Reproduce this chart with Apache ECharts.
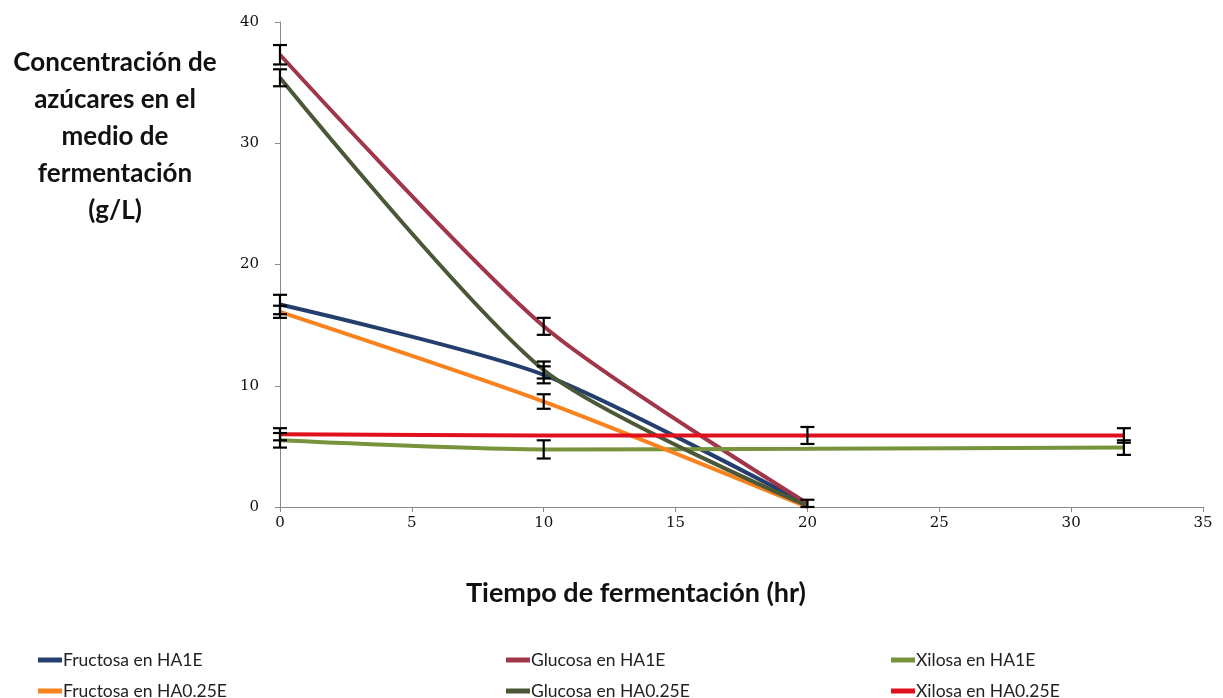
<!DOCTYPE html>
<html><head><meta charset="utf-8">
<script src="https://cdn.jsdelivr.net/npm/echarts@6/dist/echarts.min.js"></script>
<style>html,body{margin:0;padding:0;background:#fff}#c{width:1223px;height:698px}</style>
</head><body><div id="c"></div>
<script>
const times = [0, 10, 20, 32];
const seriesNames = ['Fructosa en HA1E','Glucosa en HA1E','Xilosa en HA1E','Fructosa en HA0.25E','Glucosa en HA0.25E','Xilosa en HA0.25E'];
const fructosaHA1E   = [16.7, 10.9, 0.2, null];
const glucosaHA1E    = [37.3, 14.9, 0.3, null];
const xilosaHA1E     = [5.5, 4.75, 4.8, 4.9];
const fructosaHA025E = [16.1, 8.7, 0.0, null];
const glucosaHA025E  = [35.4, 11.3, 0.1, null];
const xilosaHA025E   = [6.0, 5.9, 5.9, 5.9];
const errFructosaHA1E   = [0.8, 0.7, null, null];
const errGlucosaHA1E    = [0.8, 0.7, 0.3, null];
const errXilosaHA1E     = [0.6, 0.75, null, 0.6];
const errFructosaHA025E = [0.5, 0.6, null, null];
const errGlucosaHA025E  = [0.7, 0.7, null, null];
const errXilosaHA025E   = [0.5, null, 0.7, 0.6];
const xTicks = [0,5,10,15,20,25,30,35];
const yTicks = [0,10,20,30,40];

const values = [fructosaHA1E, glucosaHA1E, xilosaHA1E, fructosaHA025E, glucosaHA025E, xilosaHA025E];
const errors = [errFructosaHA1E, errGlucosaHA1E, errXilosaHA1E, errFructosaHA025E, errGlucosaHA025E, errXilosaHA025E];
const colors = ['#243F6E','#A0364A','#77933C','#F7821E','#4B5838','#E0101C'];

const chart = echarts.init(document.getElementById('c'));
const series = [];
values.forEach((v, i) => {
  series.push({
    name: seriesNames[i], type: 'line', smooth: 0.25, showSymbol: false,
    lineStyle: {width: 4, color: colors[i]}, itemStyle: {color: colors[i]},
    data: times.map((t, k) => v[k] == null ? null : [t, v[k]]).filter(d => d),
    z: 2
  });
});
const errData = [];
values.forEach((v, i) => times.forEach((t, k) => {
  if (v[k] != null && errors[i][k]) errData.push([t, v[k] - errors[i][k], v[k] + errors[i][k]]);
}));
series.push({
  type: 'custom', z: 5, silent: true,
  renderItem: function (params, api) {
    const x = api.value(0);
    const lo = api.coord([x, api.value(1)]);
    const hi = api.coord([x, api.value(2)]);
    const w = 7;
    const st = {stroke: '#000', lineWidth: 2.2};
    return {type: 'group', children: [
      {type: 'line', shape: {x1: lo[0], y1: lo[1], x2: hi[0], y2: hi[1]}, style: st},
      {type: 'line', shape: {x1: lo[0]-w, y1: lo[1], x2: lo[0]+w, y2: lo[1]}, style: st},
      {type: 'line', shape: {x1: hi[0]-w, y1: hi[1], x2: hi[0]+w, y2: hi[1]}, style: st}
    ]};
  },
  encode: {x: 0, y: [1, 2]},
  data: errData
});

const legendBase = {orient: 'horizontal', itemWidth: 24, itemHeight: 5, icon: 'rect',
  textStyle: {fontFamily: 'Lato', fontSize: 17.5, color: '#222', padding: [0,0,0,-4]}};
const legPos = [[33,646],[501,646],[886,646],[33,677],[501,677],[886,677]];
const legends = seriesNames.map((n, i) => Object.assign({left: legPos[i][0], top: legPos[i][1], data: [n]}, legendBase));

chart.setOption({
  animation: false,
  grid: {left: 280, right: 20, top: 22, bottom: 191, containLabel: false},
  xAxis: {type: 'value', min: 0, max: 35, interval: 5,
    axisLine: {lineStyle: {color: '#888', width: 1}},
    axisTick: {show: true, length: 5, lineStyle: {color: '#888'}},
    splitLine: {show: false},
    axisLabel: {fontFamily: 'DejaVu Serif', fontSize: 15, color: '#111', margin: 9,
      formatter: v => xTicks.includes(v) ? String(v) : ''}
  },
  yAxis: {type: 'value', min: 0, max: 40, interval: 10,
    axisLine: {show: true, lineStyle: {color: '#888', width: 1}},
    axisTick: {show: true, length: 5, lineStyle: {color: '#888'}},
    splitLine: {show: false},
    axisLabel: {fontFamily: 'DejaVu Serif', fontSize: 15, color: '#111', margin: 21,
      formatter: v => yTicks.includes(v) ? String(v) : ''}
  },
  legend: legends,
  graphic: [
    {type: 'text', x: 115, y: 44,
      style: {text: 'Concentración de\nazúcares en el\nmedio de\nfermentación\n(g/L)', textAlign: 'center',
        fontFamily: 'Lato', fontWeight: 'bold', fontSize: 26, lineHeight: 37, fill: '#111'}},
    {type: 'text', x: 636, y: 593,
      style: {text: 'Tiempo de fermentación (hr)', textAlign: 'center', textVerticalAlign: 'middle',
        fontFamily: 'Lato', fontWeight: 'bold', fontSize: 27, fill: '#111'}}
  ],
  series: series
});
</script></body></html>
